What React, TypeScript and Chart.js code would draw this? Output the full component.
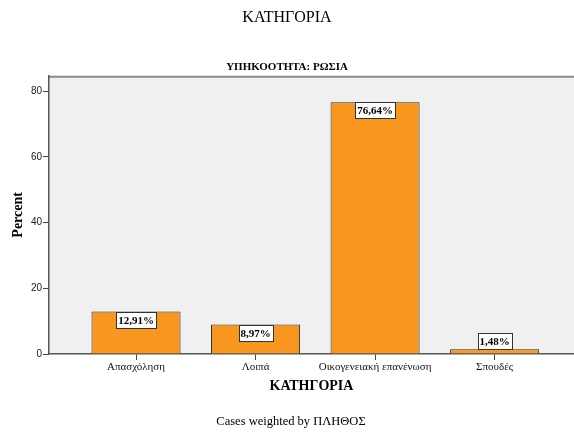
import React, { useEffect, useRef } from 'react';
import { Chart, registerables } from 'chart.js';

Chart.register(...registerables);

const categories = ['Απασχόληση', 'Λοιπά', 'Οικογενειακή επανένωση', 'Σπουδές'];
const percents = [12.91, 8.97, 76.64, 1.48];
const yTickStep = 20;
const chartTitle = 'ΚΑΤΗΓΟΡΙΑ';
const panelTitle = 'ΥΠΗΚΟΟΤΗΤΑ: ΡΩΣΙΑ';
const xTitle = 'ΚΑΤΗΓΟΡΙΑ';
const yTitle = 'Percent';
const footerText = 'Cases weighted by ΠΛΗΘΟΣ';

const SERIF = '"Liberation Serif", "DejaVu Serif", serif';
const SANS = '"Liberation Sans", Arial, sans-serif';

const bgPlugin = {
  id: 'plotBg',
  beforeDraw(chart: any) {
    const { ctx, chartArea } = chart;
    ctx.save();
    ctx.fillStyle = '#F0F0F0';
    ctx.fillRect(chartArea.left, chartArea.top, chartArea.right - chartArea.left, chartArea.bottom - chartArea.top);
    ctx.strokeStyle = '#8a8a8a';
    ctx.lineWidth = 2;
    ctx.beginPath();
    ctx.moveTo(chartArea.left, chartArea.top + 1);
    ctx.lineTo(chartArea.right, chartArea.top + 1);
    ctx.stroke();
    ctx.restore();
  },
};

const labelPlugin = {
  id: 'valueLabels',
  afterDatasetsDraw(chart: any) {
    const { ctx } = chart;
    const meta = chart.getDatasetMeta(0);
    ctx.save();
    ctx.font = 'bold 11px ' + SERIF;
    ctx.textAlign = 'center';
    ctx.textBaseline = 'middle';
    meta.data.forEach((el: any, i: number) => {
      const v = percents[i];
      const text = v.toFixed(2).replace('.', ',') + '%';
      const tw = ctx.measureText(text).width;
      const w = Math.round(tw + 4);
      const h = 16;
      const barH = el.base - el.y;
      const top = barH >= h ? el.y : el.y - h;
      const left = Math.round(el.x - w / 2) + 0.5;
      const t = Math.round(top) + 0.5;
      ctx.fillStyle = '#ffffff';
      ctx.fillRect(left, t, w, h);
      ctx.strokeStyle = '#333333';
      ctx.lineWidth = 1;
      ctx.strokeRect(left, t, w, h);
      ctx.fillStyle = '#000000';
      ctx.fillText(text, el.x, t + h / 2 + 0.5);
    });
    ctx.restore();
  },
};

const footerPlugin = {
  id: 'footerText',
  afterDraw(chart: any) {
    const { ctx } = chart;
    ctx.save();
    ctx.font = '12.5px ' + SERIF;
    ctx.fillStyle = '#000';
    ctx.textAlign = 'center';
    ctx.textBaseline = 'middle';
    ctx.fillText(footerText, chart.width / 2 + 4, 422);
    ctx.restore();
  },
};

export default function App() {
  const ref = useRef<HTMLCanvasElement | null>(null);

  useEffect(() => {
    if (!ref.current) return;
    const chart = new Chart(ref.current, {
      type: 'bar',
      data: {
        datasets: [
          {
            data: percents.map((v, i) => ({ x: i, y: v })),
            backgroundColor: '#F8971F',
            borderColor: '#2a2a2a',
            borderWidth: 1,
            categoryPercentage: 1,
            barPercentage: 0.745,
          },
        ],
      },
      options: {
        responsive: false,
        animation: false,
        layout: { padding: 0 },
        plugins: {
          legend: { display: false },
          tooltip: { enabled: false },
          title: {
            display: true,
            text: chartTitle,
            color: '#000',
            font: { family: SERIF, size: 16, weight: 'normal' },
            padding: { top: 8, bottom: 0 },
          },
          subtitle: {
            display: true,
            text: panelTitle,
            color: '#000',
            font: { family: SERIF, size: 11, weight: 'bold' },
            padding: { top: 33.7, bottom: 1.6 },
          },
        },
        scales: {
          x: {
            type: 'linear',
            offset: false,
            min: -0.728,
            max: 3.664,
            afterFit: (s: any) => {
              s.height = 78;
            },
            ticks: {
              stepSize: 1,
              includeBounds: false,
              autoSkip: false,
              maxRotation: 0,
              padding: 1,
              color: '#111',
              font: { family: SERIF, size: 11 },
              callback: (v: any) => (Number.isInteger(v) && categories[v] !== undefined ? categories[v] : ''),
            },
            grid: {
              display: true,
              offset: false,
              drawOnChartArea: false,
              drawTicks: true,
              tickLength: 6,
              color: '#444',
            },
            border: { display: true, color: '#555', width: 1.5 },
            title: {
              display: true,
              text: xTitle,
              color: '#000',
              font: { family: SERIF, size: 14, weight: 'bold' },
              padding: { top: 0, bottom: 37 },
            },
          },
          y: {
            type: 'linear',
            min: 0,
            max: 84.7,
            afterFit: (s: any) => {
              s.width = 49;
            },
            ticks: {
              stepSize: yTickStep,
              includeBounds: false,
              padding: 1,
              color: '#222',
              font: { family: SANS, size: 10 },
            },
            grid: {
              display: true,
              drawOnChartArea: false,
              drawTicks: true,
              tickLength: 6,
              color: '#444',
            },
            border: { display: true, color: '#555', width: 1.5 },
            title: {
              display: true,
              text: yTitle,
              color: '#000',
              font: { family: SERIF, size: 14, weight: 'bold' },
              padding: { top: 10, bottom: 0 },
            },
          },
        },
      },
      plugins: [bgPlugin, labelPlugin, footerPlugin],
    } as any);
    return () => chart.destroy();
  }, []);

  return (
    <div style={{ position: 'fixed', left: 0, top: 0, width: 574, height: 432, background: '#fff' }}>
      <canvas ref={ref} width={574} height={432} style={{ display: 'block' }} />
    </div>
  );
}
